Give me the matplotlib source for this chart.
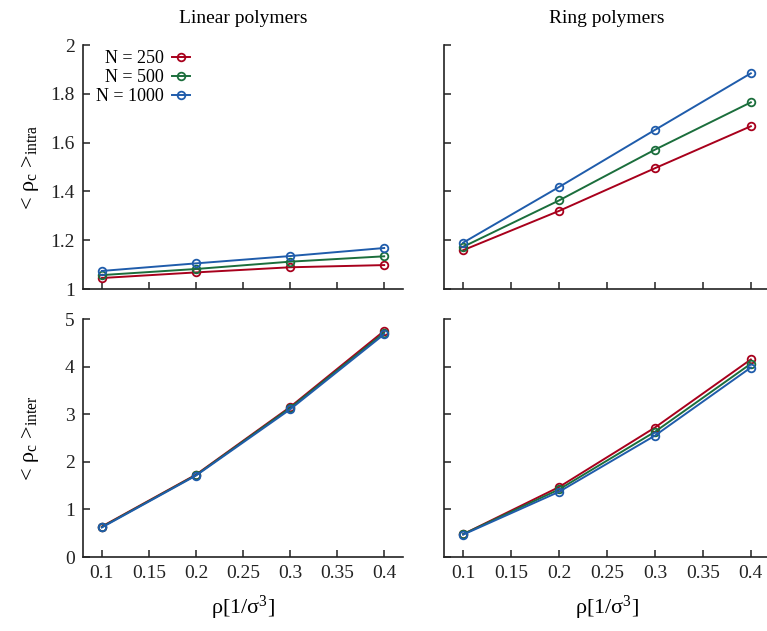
import matplotlib
matplotlib.use('Agg')
import matplotlib.pyplot as plt
from matplotlib.ticker import FuncFormatter

plt.rcParams['font.family'] = ['Liberation Serif', 'DejaVu Serif']
plt.rcParams['mathtext.fontset'] = 'custom'
plt.rcParams['mathtext.rm'] = 'Liberation Serif'
plt.rcParams['mathtext.it'] = 'Liberation Serif:italic'

# densities
rho = [0.1, 0.2, 0.3, 0.4]
labels = ['N = 250', 'N = 500', 'N = 1000']
colors = ['#a8001c', '#1b6e3c', '#1f5cab']

# <rho_c>_intra
lin_intra = [[1.045, 1.068, 1.089, 1.098],
             [1.057, 1.082, 1.112, 1.134],
             [1.074, 1.105, 1.135, 1.168]]
ring_intra = [[1.159, 1.320, 1.495, 1.667],
              [1.173, 1.363, 1.571, 1.765],
              [1.190, 1.418, 1.652, 1.884]]
# <rho_c>_inter
lin_inter = [[0.64, 1.73, 3.15, 4.75],
             [0.63, 1.72, 3.13, 4.71],
             [0.62, 1.71, 3.10, 4.68]]
ring_inter = [[0.48, 1.47, 2.72, 4.15],
              [0.48, 1.42, 2.63, 4.06],
              [0.47, 1.37, 2.55, 3.98]]

fig = plt.figure(figsize=(7.67, 6.31), dpi=100)
W, H = 767, 631

def make_ax(x0, y0, x1, y1):
    return fig.add_axes([x0 / W, 1 - y1 / H, (x1 - x0) / W, (y1 - y0) / H])

ax_li = make_ax(83, 45, 403, 289)
ax_ri = make_ax(444, 45, 770, 289)
ax_le = make_ax(83, 319, 403, 557)
ax_re = make_ax(444, 319, 770, 557)

gfmt = FuncFormatter(lambda v, p: '%g' % round(v, 3))

for ax, data in [(ax_li, lin_intra), (ax_ri, ring_intra),
                 (ax_le, lin_inter), (ax_re, ring_inter)]:
    for ys, c, lab in zip(data, colors, labels):
        ax.plot(rho, ys, color=c, lw=1.4, marker='o', ms=5.5,
                mfc='none', mew=1.3, label=lab)
    ax.set_xlim(0.08, 0.42)
    ax.set_xticks([0.1, 0.15, 0.2, 0.25, 0.3, 0.35, 0.4])
    for s in ['top', 'right']:
        ax.spines[s].set_visible(False)
    for s in ['left', 'bottom']:
        ax.spines[s].set_linewidth(1.2)
        ax.spines[s].set_color('#222222')
    ax.tick_params(direction='in', length=5, width=1.1, labelsize=14,
                   colors='#222222', pad=6)
    ax.xaxis.set_major_formatter(gfmt)
    ax.yaxis.set_major_formatter(gfmt)

for ax in (ax_li, ax_ri):
    ax.set_ylim(1, 2)
    ax.set_yticks([1, 1.2, 1.4, 1.6, 1.8, 2])
    ax.tick_params(labelbottom=False)
for ax in (ax_le, ax_re):
    ax.set_ylim(0, 5)
    ax.set_yticks([0, 1, 2, 3, 4, 5])
    ax.set_xlabel(r'ρ[1/σ$^3$]', fontsize=16, labelpad=8)
for ax in (ax_ri, ax_re):
    ax.tick_params(labelleft=False)

ax_li.set_title('Linear polymers', fontsize=14, pad=16)
ax_ri.set_title('Ring polymers', fontsize=14, pad=16)
ax_li.set_ylabel(r'< ρ$_\mathrm{c}$ >$_\mathrm{intra}$', fontsize=16)
ax_le.set_ylabel(r'< ρ$_\mathrm{c}$ >$_\mathrm{inter}$', fontsize=16)
ax_li.yaxis.set_label_coords(-0.13, 0.5)
ax_le.yaxis.set_label_coords(-0.13, 0.5)

ax_li.legend(loc='upper left', bbox_to_anchor=(0.0, 1.03), frameon=False,
             markerfirst=False, fontsize=13, handlelength=1.0,
             handletextpad=0.5, labelspacing=0.1, borderpad=0.2)

fig.savefig('out.png', dpi=100)
